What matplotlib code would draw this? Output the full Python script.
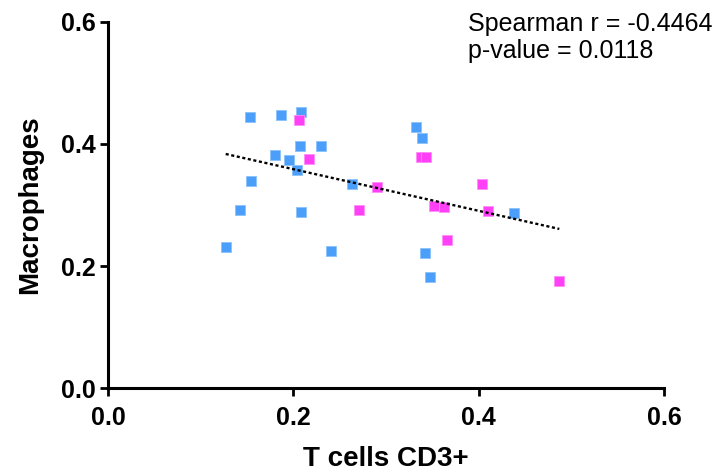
import matplotlib.pyplot as plt
import numpy as np

plt.rcParams["font.family"] = ["Liberation Sans", "DejaVu Sans"]

# group 1 (blue)
blue_x = [0.127, 0.142, 0.153, 0.154, 0.180, 0.187, 0.195, 0.204, 0.207, 0.208,
          0.208, 0.230, 0.241, 0.263, 0.332, 0.339, 0.342, 0.347, 0.438]
blue_y = [0.231, 0.292, 0.444, 0.339, 0.382, 0.447, 0.374, 0.357, 0.397, 0.452,
          0.289, 0.397, 0.225, 0.334, 0.427, 0.410, 0.221, 0.182, 0.287]

# group 2 (magenta)
pink_x = [0.206, 0.217, 0.271, 0.290, 0.338, 0.343, 0.352, 0.363, 0.366, 0.404,
          0.410, 0.487]
pink_y = [0.440, 0.376, 0.292, 0.329, 0.379, 0.379, 0.299, 0.297, 0.243, 0.334,
          0.290, 0.176]

annot = ["Spearman r = -0.4464", "p-value = 0.0118"]

fig = plt.figure(figsize=(7.21, 4.73), dpi=100)
ax = fig.add_axes([0.1498, 0.179, 0.7712, 0.775])

ax.scatter(blue_x, blue_y, marker="s", s=62, color="#4b9ffa",
           edgecolors="#8cc2fb", linewidths=0.6, zorder=3)
ax.scatter(pink_x, pink_y, marker="s", s=62, color="#ff40f6",
           edgecolors="#ff8cf9", linewidths=0.6, zorder=3)

# linear fit across all points
all_x = np.array(blue_x + pink_x)
all_y = np.array(blue_y + pink_y)
slope, icpt = np.polyfit(all_x, all_y, 1)
xl = np.array([all_x.min(), all_x.max()])
ax.plot(xl, slope * xl + icpt, color="black", ls=(0, (1.3, 1.1)), lw=1.7,
        zorder=4)

ax.set_xlim(0, 0.6)
ax.set_ylim(0, 0.6)
ax.set_xticks([0.0, 0.2, 0.4, 0.6])
ax.set_yticks([0.0, 0.2, 0.4, 0.6])
ax.set_xticklabels(["0.0", "0.2", "0.4", "0.6"])
ax.set_yticklabels(["0.0", "0.2", "0.4", "0.6"])

for s in ["top", "right"]:
    ax.spines[s].set_visible(False)
for s in ["left", "bottom"]:
    ax.spines[s].set_linewidth(2.2)
ax.tick_params(direction="out", length=6, width=2, labelsize=18)
ax.tick_params(axis="x", pad=7)
ax.tick_params(axis="y", pad=3)
for lab in ax.get_xticklabels() + ax.get_yticklabels():
    lab.set_fontweight("bold")
ax.set_clip_on(False)

ax.set_xlabel("T cells CD3+", fontsize=20, fontweight="bold", labelpad=11)
ax.set_ylabel("Macrophages", fontsize=20, fontweight="bold", labelpad=13)

fig.text(0.649, 0.949, annot[0], fontsize=18, va="center", ha="left")
fig.text(0.649, 0.893, annot[1], fontsize=18, va="center", ha="left")

fig.savefig("out.png", dpi=100)
